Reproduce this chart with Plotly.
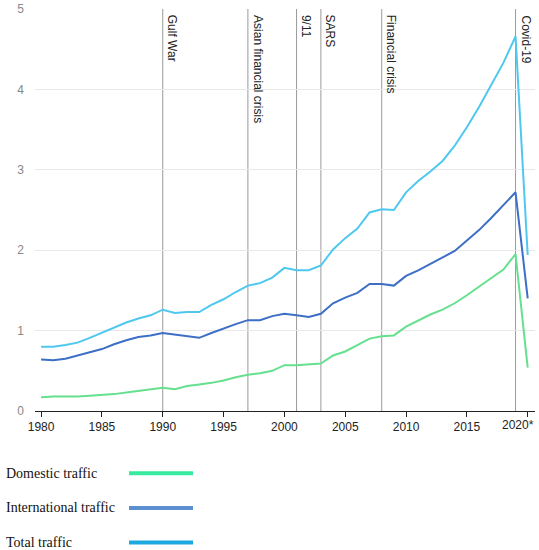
import plotly.graph_objects as go

years = list(range(1980, 2021))

domestic = [0.17, 0.18, 0.18, 0.18, 0.19, 0.20, 0.21, 0.23, 0.25, 0.27, 0.29, 0.27, 0.31, 0.33, 0.35, 0.38,
            0.42, 0.45, 0.47, 0.50, 0.57, 0.57, 0.58, 0.59, 0.69, 0.74, 0.82, 0.90, 0.93, 0.94, 1.05,
            1.13, 1.20, 1.26, 1.34, 1.44, 1.55, 1.65, 1.76, 1.95, 0.54]
international = [0.64, 0.63, 0.65, 0.69, 0.73, 0.77, 0.83, 0.88, 0.92, 0.94, 0.97, 0.95, 0.93, 0.91, 0.97, 1.03,
                 1.08, 1.13, 1.13, 1.18, 1.21, 1.19, 1.17, 1.21, 1.34, 1.41, 1.47, 1.58, 1.58, 1.56, 1.68,
                 1.75, 1.83, 1.90, 1.99, 2.12, 2.25, 2.40, 2.56, 2.72, 1.40]
total = [0.80, 0.80, 0.82, 0.85, 0.91, 0.97, 1.03, 1.10, 1.15, 1.19, 1.26, 1.22, 1.23, 1.23, 1.32, 1.39,
         1.48, 1.56, 1.59, 1.66, 1.78, 1.75, 1.75, 1.81, 2.01, 2.15, 2.27, 2.47, 2.51, 2.50, 2.72,
         2.86, 2.98, 3.11, 3.30, 3.53, 3.78, 4.05, 4.33, 4.66, 1.94]

event_years = [1990, 1997, 2001, 2003, 2008, 2019]
event_labels = ["Gulf War", "Asian financial crisis", "9/11", "SARS", "Financial crisis", "Covid-19"]

tick_vals = [1980, 1985, 1990, 1995, 2000, 2005, 2010, 2015, 2020]
tick_text = ["1980", "1985", "1990", "1995", "2000", "2005", "2010", "2015", ""]
last_tick_label = "2020*"   # drawn separately, it sits left of its tick in the original

series_names = ["Domestic traffic", "International traffic", "Total traffic"]
line_colors = ["#66e08e", "#3d6fc6", "#4ec8ef"]
legend_colors = ["#36eaa0", "#5b8fd2", "#1fa8e0"]

fig = go.Figure()

# event markers (vertical lines + rotated labels)
for yr, lab in zip(event_years, event_labels):
    fig.add_shape(type="line", x0=yr, x1=yr, y0=0, y1=5, xref="x", yref="y",
                  line=dict(color="#9a9a9a", width=1), layer="below")
    fig.add_annotation(x=yr, y=5, xref="x", yref="y", text=lab, textangle=90,
                       showarrow=False, xanchor="left", yanchor="top", xshift=1, yshift=-4,
                       font=dict(family="Liberation Sans", size=12, color="#222"))

for name, vals, col in zip(series_names, [domestic, international, total], line_colors):
    fig.add_trace(go.Scatter(x=years, y=vals, mode="lines", name=name,
                             line=dict(color=col, width=2), showlegend=False))

fig.add_annotation(x=tick_vals[-1], y=0, xref="x", yref="y", text=last_tick_label,
                   showarrow=False, xanchor="center", yanchor="top", xshift=-10, yshift=-5,
                   font=dict(family="Liberation Sans", size=12, color="#222"))

# hand-made legend under the chart: text on the left, line swatch on the right
for i, (name, col) in enumerate(zip(series_names, legend_colors)):
    ypos = -0.155 - i * 0.086
    fig.add_annotation(x=-0.062, y=ypos, xref="paper", yref="paper", text=name,
                       showarrow=False, xanchor="left", yanchor="middle",
                       font=dict(family="Liberation Serif", size=14, color="#111"))
    fig.add_shape(type="line", x0=0.188, x1=0.316, y0=ypos, y1=ypos, xref="paper", yref="paper",
                  line=dict(color=col, width=4))

fig.update_layout(
    width=539, height=550,
    margin=dict(l=35, r=4, t=9, b=139),
    plot_bgcolor="white", paper_bgcolor="white",
    font=dict(family="Liberation Sans", size=12, color="#333"),
    xaxis=dict(range=[1979.5, 2020.6], tickvals=tick_vals, ticktext=tick_text,
               showgrid=False, showline=True, linecolor="#222", linewidth=1,
               ticks="outside", ticklen=5, tickcolor="#222", zeroline=False,
               automargin=False, tickfont=dict(size=12, color="#222")),
    yaxis=dict(range=[0, 5], dtick=1, showgrid=True, gridcolor="#e8e8e8",
               zeroline=False, showline=False, tickfont=dict(size=12, color="#888"),
               ticklabelstandoff=10, automargin=False),
)

fig.write_html("out.html", config={"displayModeBar": False},
               post_script="document.body.style.margin='0';document.body.style.overflow='hidden';")
